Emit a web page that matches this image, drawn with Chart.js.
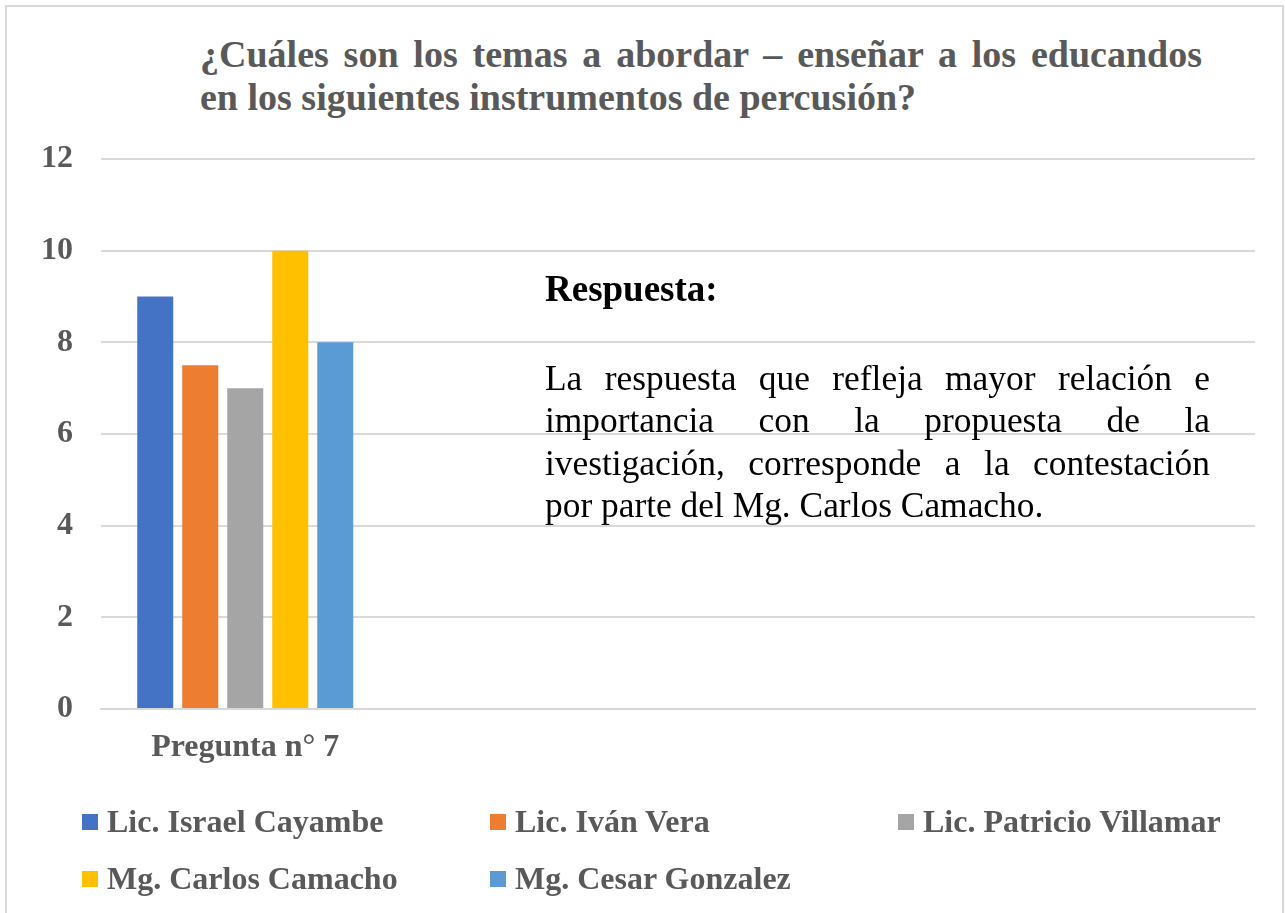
<!DOCTYPE html>
<html>
<head>
<meta charset="utf-8">
<script src="https://cdn.jsdelivr.net/npm/chart.js@4.4.0/dist/chart.umd.min.js"></script>
<style>
  html, body { margin: 0; padding: 0; background: #fff; }
  body { width: 1285px; height: 913px; position: relative; overflow: hidden; font-family: "Liberation Serif", "Times New Roman", serif; }
  #frame { position: absolute; left: 5px; top: 5px; width: 1275px; height: 930px; border: 2px solid #d9d9d9; }
  #chart { position: absolute; left: 0; top: 0; }
  #title { position: absolute; left: 200px; top: 33px; width: 1002px; font-weight: bold; font-size: 38px; line-height: 43px; color: #595959; }
  #title .ln { display: block; text-align: justify; text-align-last: justify; }
  #title .ln.last { text-align-last: left; }
  #note { position: absolute; left: 545px; top: 266px; width: 665px; color: #000; }
  #note h3 { margin: 0 0 45px 0; font-size: 37px; font-weight: bold; line-height: 46px; }
  #note .ln { display: block; font-size: 35.4px; line-height: 42.3px; text-align: justify; text-align-last: justify; }
  #note .ln.last { text-align-last: left; }
  #legend { position: absolute; left: 82px; top: 803px; width: 1200px; }
  .item { position: absolute; display: flex; align-items: center; font-weight: bold; font-size: 32px; color: #595959; white-space: nowrap; }
  .item i { display: inline-block; width: 16px; height: 16px; margin-right: 9px; }
</style>
</head>
<body>
<div id="frame"></div>
<div id="title">
  <span class="ln">¿Cuáles son los temas a abordar – enseñar a los educandos</span>
  <span class="ln last">en los siguientes instrumentos de percusión?</span>
</div>
<canvas id="chart" width="1285" height="913"></canvas>
<div id="note">
  <h3>Respuesta:</h3>
  <span class="ln">La respuesta que refleja mayor relación e</span>
  <span class="ln">importancia con la propuesta de la</span>
  <span class="ln">ivestigación, corresponde a la contestación</span>
  <span class="ln last">por parte del Mg. Carlos Camacho.</span>
</div>
<div id="legend"></div>
<script>
const categories = ['Pregunta n° 7', '', '', ''];
const seriesNames = ['Lic. Israel Cayambe', 'Lic. Iván Vera', 'Lic. Patricio Villamar', 'Mg. Carlos Camacho', 'Mg. Cesar Gonzalez'];
const seriesColors = ['#4472C4', '#ED7D31', '#A5A5A5', '#FFC000', '#5B9BD5'];
const israel = [9, null, null, null];
const ivan = [7.5, null, null, null];
const patricio = [7, null, null, null];
const carlos = [10, null, null, null];
const cesar = [8, null, null, null];
const yTicks = [0, 2, 4, 6, 8, 10, 12];

const seriesValues = [israel, ivan, patricio, carlos, cesar];
const font = 'Liberation Serif';

const datasets = seriesNames.map((name, i) => ({
    label: name,
    data: seriesValues[i],
    backgroundColor: seriesColors[i],
    borderWidth: 0,
    categoryPercentage: 0.78,
    barPercentage: 0.8
}));

new Chart(document.getElementById('chart'), {
    type: 'bar',
    data: { labels: categories, datasets: datasets },
    options: {
        responsive: false,
        animation: false,
        layout: { padding: { left: 31, right: 30, top: 159, bottom: 144 } },
        plugins: { legend: { display: false }, title: { display: false }, tooltip: { enabled: false } },
        scales: {
            x: {
                grid: { display: false },
                border: { display: true, color: '#d9d9d9', width: 2 },
                ticks: { color: '#595959', font: { family: font, size: 32, weight: 'bold' }, padding: 12, maxRotation: 0 },
                afterFit: (s) => { s.height = 60; }
            },
            y: {
                min: 0,
                max: 12,
                afterBuildTicks: (s) => { s.ticks = yTicks.map(v => ({ value: v })); },
                grid: { color: '#d9d9d9', lineWidth: 2, drawTicks: false },
                border: { display: false },
                ticks: { color: '#595959', font: { family: font, size: 32, weight: 'bold' }, padding: 28 },
                afterFit: (s) => { s.width = 70; }
            }
        }
    }
});

// legend laid out in three fixed columns, like the original
const legend = document.getElementById('legend');
seriesNames.forEach((name, i) => {
    const el = document.createElement('div');
    el.className = 'item';
    el.style.left = (i % 3) * 408 + 'px';
    el.style.top = Math.floor(i / 3) * 57 + 'px';
    el.innerHTML = '<i style="background:' + seriesColors[i] + '"></i>' + name;
    legend.appendChild(el);
});
</script>
</body>
</html>
